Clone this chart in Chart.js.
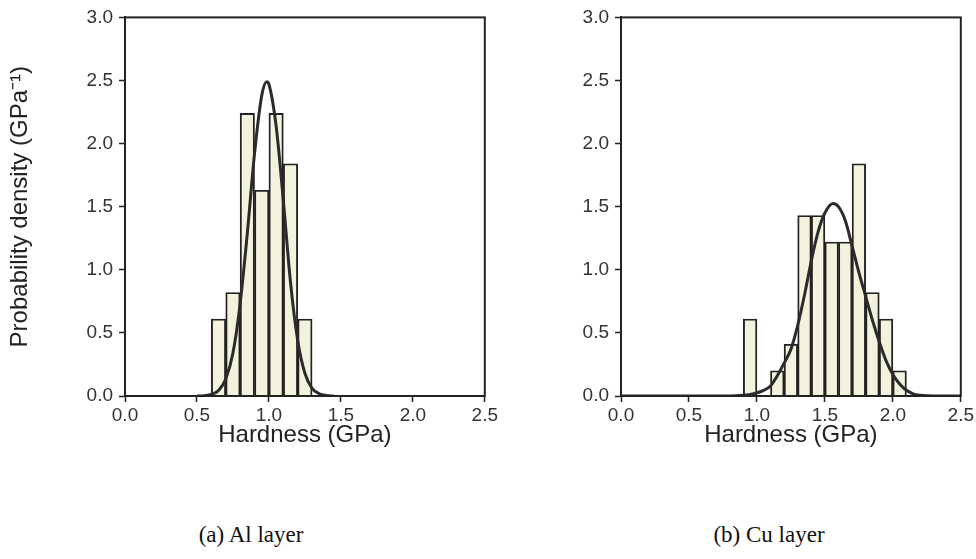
<!DOCTYPE html>
<html>
<head>
<meta charset="utf-8">
<script src="https://cdn.jsdelivr.net/npm/chart.js@4.4.1/dist/chart.umd.min.js"></script>
<style>
  html, body { margin: 0; padding: 0; background: #ffffff; }
  #wrap { position: relative; width: 976px; height: 559px; overflow: hidden; background: #fff; }
  .box { position: absolute; top: 0; height: 470px; }
  .cap { position: absolute; top: 522px; font-family: "Liberation Serif", "Times New Roman", serif; font-size: 23px; color: #111; white-space: nowrap; transform: translateX(-50%); }
</style>
</head>
<body>
<div id="wrap">
  <div class="box" style="left:0;width:500px;"><canvas id="cAl" width="500" height="470"></canvas></div>
  <div class="box" style="left:496px;width:480px;"><canvas id="cCu" width="480" height="470"></canvas></div>
  <div class="cap" style="left:251px;">(a) Al layer</div>
  <div class="cap" style="left:769px;">(b) Cu layer</div>
</div>
<script>
// ---- Data ----
// Histogram bins (bin centres, GPa) and probability density (GPa^-1)
const alBinCenters = [0.65, 0.75, 0.85, 0.95, 1.05, 1.15, 1.25];
const alDensity    = [0.61, 0.82, 2.24, 1.63, 2.24, 1.84, 0.61];

const cuBinCenters = [0.95, 1.15, 1.25, 1.35, 1.45, 1.55, 1.65, 1.75, 1.85, 1.95, 2.05];
const cuDensity    = [0.61, 0.20, 0.41, 1.43, 1.43, 1.22, 1.22, 1.84, 0.82, 0.61, 0.20];

// Fitted curves
const alFitX = [0.50, 0.55, 0.60, 0.65, 0.70, 0.75, 0.80, 0.85, 0.90, 0.95, 0.985, 1.00, 1.05, 1.10, 1.15, 1.20, 1.25, 1.30, 1.35, 1.40, 1.45];
const alFitY = [0.00, 0.003, 0.012, 0.044, 0.135, 0.34, 0.73, 1.29, 1.92, 2.38, 2.49, 2.47, 2.14, 1.55, 0.90, 0.44, 0.18, 0.06, 0.018, 0.004, 0.00];

const cuFitX = [0.00, 0.50, 0.80, 0.90, 0.95, 1.00, 1.05, 1.10, 1.15, 1.20, 1.25, 1.30, 1.35, 1.40, 1.45, 1.50, 1.56, 1.60, 1.65, 1.70, 1.75, 1.80, 1.85, 1.90, 1.95, 2.00, 2.05, 2.10, 2.15, 2.20, 2.30, 2.50];
const cuFitY = [0.00, 0.00, 0.00, 0.005, 0.012, 0.025, 0.045, 0.08, 0.16, 0.26, 0.37, 0.56, 0.80, 1.07, 1.30, 1.45, 1.525, 1.50, 1.39, 1.19, 0.98, 0.79, 0.60, 0.43, 0.28, 0.17, 0.095, 0.045, 0.017, 0.006, 0.00, 0.00];

// Axis tick labels and titles
const xTickLabels = ["0.0", "0.5", "1.0", "1.5", "2.0", "2.5"];
const yTickLabels = ["0.0", "0.5", "1.0", "1.5", "2.0", "2.5", "3.0"];
const xAxisTitle = "Hardness (GPa)";
const yAxisTitle = "Probability density (GPa\u207B\u00B9)";

// ---- Styling ----
const INK = "#222222";
const BAR_FILL = "#f3f3dd";
const TICK_FONT = { family: "'Liberation Sans', Arial, sans-serif", size: 19 };
const TITLE_FONT = { family: "'Liberation Sans', Arial, sans-serif", size: 24 };

const framePlugin = {
  id: "frame",
  afterDraw(chart) {
    const { ctx, chartArea: a } = chart;
    ctx.save();
    ctx.strokeStyle = INK;
    ctx.lineWidth = 2;
    ctx.strokeRect(a.left, a.top, a.right - a.left, a.bottom - a.top);
    ctx.restore();
  }
};

function makeChart(id, binCenters, density, fitX, fitY, showYTitle, rightPad) {
  const bars = binCenters.map((x, i) => ({ x: x, y: density[i] }));
  const fit = fitX.map((x, i) => ({ x: x, y: fitY[i] }));
  return new Chart(document.getElementById(id), {
    type: "bar",
    data: {
      datasets: [
        {
          type: "line",
          data: fit,
          borderColor: "#2b2b2b",
          borderWidth: 3,
          pointRadius: 0,
          fill: false,
          cubicInterpolationMode: "monotone",
          order: 0
        },
        {
          type: "bar",
          data: bars,
          backgroundColor: BAR_FILL,
          borderColor: INK,
          borderWidth: 1.9,
          borderSkipped: "bottom",
          barPercentage: 1.0,
          categoryPercentage: 1.0,
          order: 1
        }
      ]
    },
    options: {
      responsive: false,
      animation: false,
      events: [],
      layout: { padding: { top: 16, right: rightPad, left: 0, bottom: 0 } },
      plugins: { legend: { display: false }, tooltip: { enabled: false } },
      scales: {
        x: {
          type: "linear",
          min: 0, max: 2.5,
          offset: false,
          grid: { display: true, offset: false, drawOnChartArea: false, drawTicks: true, tickLength: 6, tickColor: INK, tickWidth: 1.5 },
          border: { display: true, color: INK, width: 2 },
          ticks: {
            stepSize: 0.5, color: "#333", font: TICK_FONT, padding: 2, maxRotation: 0,
            callback: (v) => { const i = Math.round(v / 0.5); return xTickLabels[i]; }
          },
          title: { display: true, text: xAxisTitle, color: "#222", font: TITLE_FONT, padding: { top: 0, bottom: 20 } },
          afterFit: (s) => { s.height = 74; }
        },
        y: {
          min: 0, max: 3.0,
          grid: { display: true, drawOnChartArea: false, drawTicks: true, tickLength: 6, tickColor: INK, tickWidth: 1.5 },
          border: { display: true, color: INK, width: 2 },
          ticks: {
            stepSize: 0.5, color: "#333", font: TICK_FONT, padding: 6,
            callback: (v) => { const i = Math.round(v / 0.5); return yTickLabels[i]; }
          },
          title: { display: showYTitle, text: yAxisTitle, color: "#222", font: TITLE_FONT, padding: { top: 6, bottom: 0 } },
          afterFit: (s) => { s.width = 125; }
        }
      }
    },
    plugins: [framePlugin]
  });
}

makeChart("cAl", alBinCenters, alDensity, alFitX, alFitY, true, 13);
makeChart("cCu", cuBinCenters, cuDensity, cuFitX, cuFitY, false, 15);
</script>
</body>
</html>
